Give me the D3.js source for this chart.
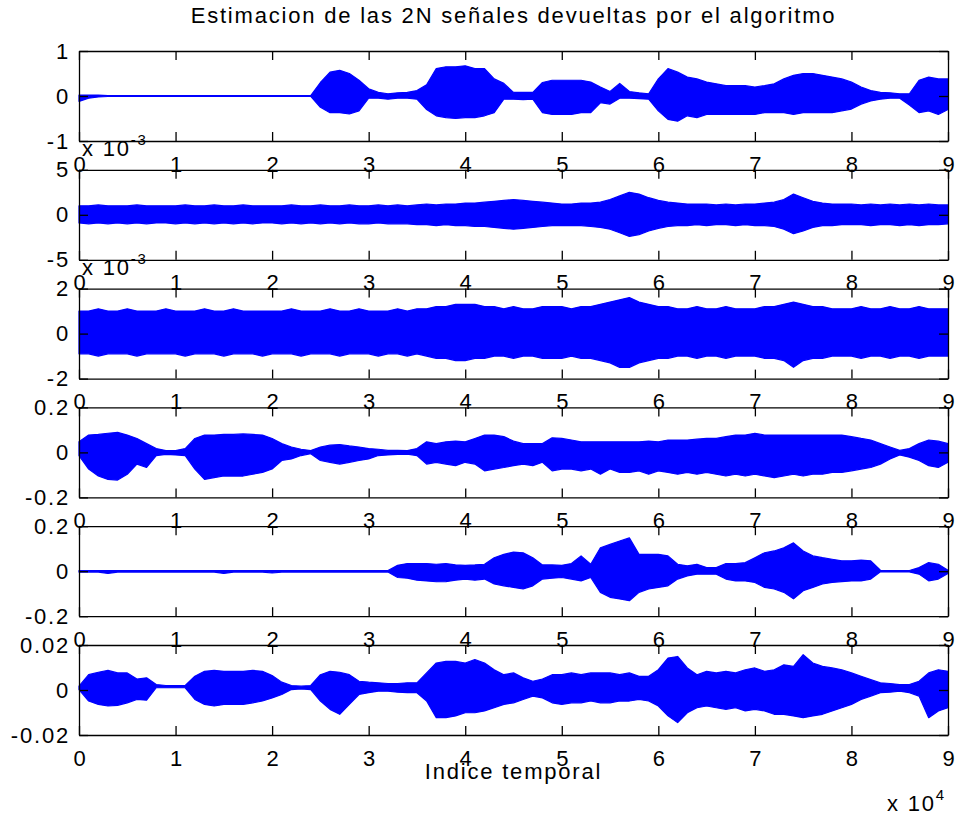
<!DOCTYPE html>
<html>
<head>
<meta charset="utf-8">
<script src="https://cdn.jsdelivr.net/npm/d3@7"></script>
<style>
  body { margin: 0; background: #fff; }
  svg { display: block; }
  text { font-family: "Liberation Sans", Arial, sans-serif; fill: #000; letter-spacing: 1.8px; }
  .xtick text { letter-spacing: 0; }
</style>
</head>
<body>
<svg id="chart" width="955" height="817"></svg>
<script>
// sample index of every envelope point (step 1000 samples)
const sampleIdx = [0,1000,2000,3000,4000,5000,6000,7000,8000,9000,
  10000,11000,12000,13000,14000,15000,16000,17000,18000,19000,
  20000,21000,22000,23000,24000,25000,26000,27000,28000,29000,
  30000,31000,32000,33000,34000,35000,36000,37000,38000,39000,
  40000,41000,42000,43000,44000,45000,46000,47000,48000,49000,
  50000,51000,52000,53000,54000,55000,56000,57000,58000,59000,
  60000,61000,62000,63000,64000,65000,66000,67000,68000,69000,
  70000,71000,72000,73000,74000,75000,76000,77000,78000,79000,
  80000,81000,82000,83000,84000,85000,86000,87000,88000,89000,
  90000];

// upper / lower envelope of each of the 6 signals
const hi1 = [0.02,0.02,0.02,0.01,0.01,0.01,0.01,0.01,0.01,0.01,
  0.01,0.01,0.01,0.01,0.01,0.01,0.01,0.01,0.01,0.01,
  0.01,0.01,0.01,0.01,0.01,0.30,0.53,0.57,0.50,0.35,
  0.16,0.08,0.05,0.07,0.08,0.12,0.25,0.61,0.65,0.65,
  0.67,0.61,0.61,0.38,0.28,0.08,0.08,0.08,0.30,0.35,
  0.35,0.35,0.35,0.31,0.20,0.10,0.28,0.10,0.07,0.05,
  0.38,0.61,0.53,0.42,0.38,0.31,0.27,0.23,0.23,0.23,
  0.20,0.23,0.27,0.38,0.46,0.50,0.50,0.46,0.42,0.38,
  0.31,0.20,0.12,0.08,0.07,0.05,0.05,0.35,0.42,0.38,
  0.38];
const lo1 = [-0.12,-0.05,-0.02,-0.01,-0.01,-0.01,-0.01,-0.01,-0.01,-0.01,
  -0.01,-0.01,-0.01,-0.01,-0.01,-0.01,-0.01,-0.01,-0.01,-0.01,
  -0.01,-0.01,-0.01,-0.01,-0.01,-0.25,-0.37,-0.37,-0.40,-0.33,
  -0.05,-0.05,-0.07,-0.05,-0.05,-0.07,-0.30,-0.44,-0.48,-0.50,
  -0.48,-0.48,-0.44,-0.37,-0.07,-0.07,-0.08,-0.07,-0.37,-0.41,
  -0.41,-0.41,-0.37,-0.37,-0.15,-0.18,-0.05,-0.05,-0.06,-0.07,
  -0.33,-0.52,-0.56,-0.44,-0.48,-0.41,-0.41,-0.41,-0.41,-0.41,
  -0.41,-0.37,-0.37,-0.37,-0.41,-0.37,-0.37,-0.37,-0.37,-0.33,
  -0.29,-0.18,-0.11,-0.07,-0.05,-0.05,-0.20,-0.37,-0.33,-0.41,
  -0.30];

const hi2 = [0.0010,0.0010,0.0011,0.0010,0.0010,0.0010,0.0011,0.0010,0.0010,0.0010,
  0.0010,0.0011,0.0010,0.0010,0.0011,0.0010,0.0010,0.0011,0.0010,0.0010,
  0.0010,0.0010,0.0011,0.0010,0.0010,0.0011,0.0010,0.0010,0.0011,0.0010,
  0.0010,0.0011,0.0010,0.0011,0.0010,0.0011,0.0012,0.0011,0.0012,0.0012,
  0.0013,0.0013,0.0014,0.0015,0.0016,0.0017,0.0016,0.0015,0.0014,0.0013,
  0.0012,0.0012,0.0013,0.0013,0.0014,0.0017,0.0021,0.0025,0.0023,0.0019,
  0.0016,0.0014,0.0013,0.0012,0.0012,0.0012,0.0011,0.0012,0.0011,0.0012,
  0.0012,0.0013,0.0014,0.0017,0.0023,0.0019,0.0015,0.0013,0.0012,0.0012,
  0.0012,0.0011,0.0012,0.0011,0.0012,0.0011,0.0012,0.0011,0.0012,0.0011,
  0.0011];
const lo2 = [-0.0009,-0.0010,-0.0009,-0.0010,-0.0009,-0.0010,-0.0009,-0.0010,-0.0009,-0.0009,
  -0.0010,-0.0009,-0.0010,-0.0009,-0.0010,-0.0009,-0.0010,-0.0009,-0.0010,-0.0009,
  -0.0009,-0.0010,-0.0009,-0.0010,-0.0009,-0.0010,-0.0009,-0.0010,-0.0009,-0.0010,
  -0.0010,-0.0009,-0.0010,-0.0010,-0.0010,-0.0011,-0.0011,-0.0012,-0.0011,-0.0012,
  -0.0012,-0.0013,-0.0013,-0.0014,-0.0015,-0.0016,-0.0015,-0.0014,-0.0013,-0.0012,
  -0.0012,-0.0012,-0.0012,-0.0013,-0.0014,-0.0016,-0.0020,-0.0024,-0.0022,-0.0018,
  -0.0015,-0.0013,-0.0012,-0.0012,-0.0011,-0.0012,-0.0011,-0.0011,-0.0012,-0.0011,
  -0.0012,-0.0012,-0.0013,-0.0016,-0.0021,-0.0018,-0.0014,-0.0012,-0.0012,-0.0011,
  -0.0011,-0.0011,-0.0012,-0.0011,-0.0011,-0.0012,-0.0011,-0.0012,-0.0011,-0.0011,
  -0.0010];

const hi3 = [0.0010,0.0010,0.0011,0.0010,0.0010,0.0011,0.0010,0.0010,0.0010,0.0011,
  0.0010,0.0010,0.0010,0.0011,0.0010,0.0010,0.0011,0.0010,0.0010,0.0010,
  0.0010,0.0010,0.0011,0.0010,0.0010,0.0010,0.0011,0.0010,0.0010,0.0011,
  0.0010,0.0010,0.0010,0.0011,0.0010,0.0011,0.0011,0.0012,0.0012,0.0013,
  0.0013,0.0013,0.0012,0.0012,0.0011,0.0012,0.0011,0.0011,0.0012,0.0012,
  0.0012,0.0011,0.0012,0.0012,0.0013,0.0014,0.0015,0.0016,0.0014,0.0013,
  0.0012,0.0012,0.0011,0.0011,0.0012,0.0011,0.0011,0.0012,0.0011,0.0011,
  0.0011,0.0012,0.0012,0.0013,0.0014,0.0013,0.0012,0.0012,0.0011,0.0011,
  0.0011,0.0012,0.0011,0.0011,0.0012,0.0011,0.0011,0.0012,0.0011,0.0011,
  0.0011];
const lo3 = [-0.0009,-0.0009,-0.0010,-0.0009,-0.0009,-0.0009,-0.0010,-0.0009,-0.0009,-0.0009,
  -0.0009,-0.0010,-0.0009,-0.0009,-0.0009,-0.0010,-0.0009,-0.0009,-0.0009,-0.0010,
  -0.0009,-0.0009,-0.0009,-0.0010,-0.0009,-0.0009,-0.0009,-0.0010,-0.0009,-0.0009,
  -0.0009,-0.0010,-0.0009,-0.0009,-0.0010,-0.0009,-0.0010,-0.0011,-0.0011,-0.0012,
  -0.0012,-0.0011,-0.0011,-0.0010,-0.0010,-0.0011,-0.0010,-0.0010,-0.0011,-0.0011,
  -0.0011,-0.0010,-0.0011,-0.0011,-0.0012,-0.0013,-0.0015,-0.0015,-0.0013,-0.0012,
  -0.0011,-0.0011,-0.0010,-0.0010,-0.0011,-0.0010,-0.0010,-0.0011,-0.0010,-0.0010,
  -0.0010,-0.0011,-0.0011,-0.0012,-0.0015,-0.0012,-0.0011,-0.0011,-0.0010,-0.0010,
  -0.0010,-0.0011,-0.0010,-0.0010,-0.0011,-0.0010,-0.0010,-0.0011,-0.0010,-0.0010,
  -0.0010];

const hi4 = [0.047,0.077,0.080,0.085,0.089,0.077,0.062,0.039,0.017,0.008,
  0.008,0.017,0.062,0.077,0.077,0.080,0.080,0.082,0.080,0.077,
  0.062,0.039,0.024,0.014,0.008,0.024,0.032,0.035,0.029,0.024,
  0.017,0.014,0.009,0.009,0.008,0.017,0.047,0.039,0.047,0.050,
  0.047,0.062,0.077,0.077,0.070,0.050,0.039,0.039,0.039,0.065,
  0.062,0.055,0.047,0.047,0.047,0.047,0.047,0.047,0.047,0.050,
  0.047,0.055,0.055,0.055,0.059,0.062,0.062,0.070,0.077,0.077,
  0.085,0.077,0.077,0.077,0.077,0.077,0.077,0.077,0.077,0.077,
  0.070,0.062,0.055,0.039,0.024,0.009,0.017,0.039,0.055,0.050,
  0.039];
const lo4 = [-0.014,-0.074,-0.105,-0.120,-0.123,-0.097,-0.052,-0.067,-0.014,-0.009,
  -0.011,-0.014,-0.074,-0.120,-0.112,-0.105,-0.105,-0.105,-0.097,-0.089,
  -0.074,-0.036,-0.029,-0.014,-0.006,-0.036,-0.044,-0.052,-0.044,-0.036,
  -0.029,-0.014,-0.011,-0.009,-0.008,-0.014,-0.052,-0.044,-0.052,-0.059,
  -0.044,-0.052,-0.082,-0.074,-0.067,-0.059,-0.052,-0.059,-0.044,-0.082,
  -0.074,-0.074,-0.082,-0.074,-0.097,-0.074,-0.089,-0.089,-0.082,-0.097,
  -0.082,-0.089,-0.097,-0.089,-0.097,-0.089,-0.097,-0.105,-0.097,-0.105,
  -0.097,-0.105,-0.112,-0.105,-0.097,-0.105,-0.097,-0.097,-0.089,-0.089,
  -0.082,-0.074,-0.067,-0.052,-0.029,-0.011,-0.021,-0.036,-0.059,-0.067,
  -0.044];

const hi5 = [0.003,0.003,0.003,0.003,0.003,0.003,0.003,0.003,0.003,0.003,
  0.003,0.003,0.003,0.003,0.003,0.003,0.003,0.003,0.003,0.003,
  0.003,0.003,0.003,0.003,0.003,0.003,0.003,0.003,0.003,0.003,
  0.003,0.003,0.003,0.026,0.034,0.034,0.034,0.031,0.034,0.028,
  0.026,0.028,0.031,0.060,0.075,0.085,0.082,0.060,0.028,0.028,
  0.026,0.034,0.068,0.031,0.104,0.119,0.134,0.148,0.075,0.075,
  0.075,0.068,0.031,0.024,0.031,0.016,0.016,0.034,0.034,0.038,
  0.060,0.082,0.090,0.104,0.126,0.090,0.068,0.060,0.053,0.046,
  0.046,0.049,0.046,0.004,0.003,0.003,0.003,0.016,0.038,0.031,
  0.004];
const lo5 = [-0.004,-0.004,-0.004,-0.010,-0.004,-0.004,-0.004,-0.004,-0.004,-0.004,
  -0.004,-0.004,-0.004,-0.004,-0.004,-0.010,-0.004,-0.004,-0.004,-0.004,
  -0.008,-0.004,-0.004,-0.004,-0.004,-0.004,-0.004,-0.004,-0.004,-0.004,
  -0.004,-0.004,-0.004,-0.028,-0.031,-0.040,-0.043,-0.047,-0.046,-0.040,
  -0.035,-0.040,-0.035,-0.057,-0.065,-0.072,-0.079,-0.065,-0.035,-0.031,
  -0.028,-0.035,-0.043,-0.028,-0.094,-0.116,-0.123,-0.131,-0.094,-0.079,
  -0.072,-0.065,-0.035,-0.021,-0.013,-0.013,-0.013,-0.035,-0.043,-0.043,
  -0.050,-0.072,-0.079,-0.094,-0.123,-0.087,-0.072,-0.057,-0.050,-0.046,
  -0.043,-0.043,-0.035,-0.002,-0.003,-0.003,-0.003,-0.013,-0.043,-0.035,
  -0.010];

const hi6 = [0.0017,0.0068,0.0079,0.0087,0.0076,0.0076,0.0049,0.0054,0.0024,0.0020,
  0.0020,0.0020,0.0061,0.0083,0.0087,0.0083,0.0083,0.0083,0.0087,0.0083,
  0.0064,0.0035,0.0020,0.0017,0.0020,0.0068,0.0083,0.0079,0.0068,0.0039,
  0.0035,0.0032,0.0029,0.0029,0.0032,0.0032,0.0076,0.0120,0.0127,0.0127,
  0.0120,0.0135,0.0120,0.0090,0.0068,0.0076,0.0054,0.0039,0.0049,0.0068,
  0.0068,0.0076,0.0068,0.0076,0.0076,0.0076,0.0068,0.0076,0.0061,0.0061,
  0.0090,0.0142,0.0149,0.0098,0.0068,0.0083,0.0076,0.0083,0.0076,0.0090,
  0.0098,0.0083,0.0090,0.0112,0.0105,0.0157,0.0120,0.0105,0.0098,0.0090,
  0.0076,0.0061,0.0046,0.0032,0.0029,0.0024,0.0024,0.0039,0.0076,0.0090,
  0.0083];
const lo6 = [0.0002,-0.0049,-0.0064,-0.0071,-0.0068,-0.0057,-0.0042,-0.0045,0.0010,0.0010,
  0.0010,0.0010,-0.0042,-0.0064,-0.0071,-0.0064,-0.0064,-0.0064,-0.0057,-0.0049,
  -0.0035,-0.0020,0.0002,0.0005,0.0002,-0.0049,-0.0086,-0.0108,-0.0064,-0.0020,
  -0.0012,-0.0005,-0.0005,-0.0010,-0.0012,-0.0012,-0.0049,-0.0123,-0.0123,-0.0115,
  -0.0101,-0.0101,-0.0093,-0.0079,-0.0064,-0.0057,-0.0042,-0.0027,-0.0035,-0.0057,
  -0.0064,-0.0057,-0.0057,-0.0049,-0.0057,-0.0057,-0.0049,-0.0049,-0.0042,-0.0049,
  -0.0071,-0.0115,-0.0145,-0.0101,-0.0079,-0.0071,-0.0079,-0.0086,-0.0079,-0.0093,
  -0.0086,-0.0093,-0.0108,-0.0108,-0.0115,-0.0123,-0.0115,-0.0108,-0.0093,-0.0079,
  -0.0064,-0.0042,-0.0027,-0.0012,-0.0010,-0.0005,-0.0012,-0.0027,-0.0123,-0.0093,
  -0.0079];

// axis limits and tick labels
const yLimits = [1, 5e-3, 2e-3, 0.2, 0.2, 0.02];
const yTickLabels = [
  ['-1', '0', '1'],
  ['-5', '0', '5'],
  ['-2', '0', '2'],
  ['-0.2', '0', '0.2'],
  ['-0.2', '0', '0.2'],
  ['-0.02', '0', '0.02']
];
const yExponents = [null, '-3', '-3', null, null, null];
const xTicks = [0, 10000, 20000, 30000, 40000, 50000, 60000, 70000, 80000, 90000];
const xTickLabels = ['0', '1', '2', '3', '4', '5', '6', '7', '8', '9'];

const highs = [hi1, hi2, hi3, hi4, hi5, hi6];
const lows = [lo1, lo2, lo3, lo4, lo5, lo6];

const svg = d3.select('#chart');
const fontSize = 22;
const fontFamily = '"Liberation Sans", Arial, sans-serif';
const left = 79, right = 948;
const firstTop = 51, step = 118.8, plotH = 90;
const tickLen = 9;

const x = d3.scaleLinear().domain([0, 90000]).range([left, right]);

svg.append('text')
  .attr('x', (left + right) / 2)
  .attr('y', 23)
  .attr('text-anchor', 'middle')
  .attr('font-size', fontSize)
  .text('Estimacion de las 2N señales devueltas por el algoritmo');

highs.forEach((hi, k) => {
  const lo = lows[k];
  const top = firstTop + k * step;
  const bottom = top + plotH;
  const lim = yLimits[k];
  const y = d3.scaleLinear().domain([-lim, lim]).range([bottom, top]);

  const g = svg.append('g').attr('class', 'panel');

  // signal envelope
  const area = d3.area()
    .x((d, i) => x(sampleIdx[i]))
    .y0((d, i) => y(lo[i]))
    .y1((d, i) => y(hi[i]));

  g.append('path')
    .datum(hi)
    .attr('d', area)
    .attr('fill', '#0000ff')
    .attr('stroke', '#0000ff')
    .attr('stroke-width', 1.2)
    .attr('stroke-linejoin', 'round');

  // box axes with inward ticks
  const bottomAxis = d3.axisBottom(x).tickValues(xTicks)
    .tickSizeInner(-tickLen).tickSizeOuter(0).tickPadding(15)
    .tickFormat((d, i) => xTickLabels[i]);
  const topAxis = d3.axisTop(x).tickValues(xTicks)
    .tickSizeInner(-tickLen).tickSizeOuter(0).tickFormat('');
  const yTicks = [-lim, 0, lim];
  const leftAxis = d3.axisLeft(y).tickValues(yTicks)
    .tickSizeInner(-tickLen).tickSizeOuter(0).tickPadding(9)
    .tickFormat((d, i) => yTickLabels[k][i]);
  const rightAxis = d3.axisRight(y).tickValues(yTicks)
    .tickSizeInner(-tickLen).tickSizeOuter(0).tickFormat('');

  const axes = [
    g.append('g').attr('class', 'xtick').attr('transform', `translate(0,${bottom})`).call(bottomAxis),
    g.append('g').attr('transform', `translate(0,${top})`).call(topAxis),
    g.append('g').attr('transform', `translate(${left},0)`).call(leftAxis),
    g.append('g').attr('transform', `translate(${right},0)`).call(rightAxis)
  ];
  axes.forEach(a => {
    a.attr('font-size', fontSize).attr('font-family', fontFamily);
    a.selectAll('path, line').attr('stroke', '#000').attr('stroke-width', 1.3);
    a.selectAll('text').attr('fill', '#000');
  });

  // exponent label above the top-left corner
  if (yExponents[k]) {
    const t = g.append('text')
      .attr('x', left + 3)
      .attr('y', top - 14)
      .attr('font-size', fontSize);
    t.append('tspan').text('x 10');
    t.append('tspan').attr('dy', -11).attr('font-size', 15).text(yExponents[k]);
  }
});

svg.append('text')
  .attr('x', (left + right) / 2)
  .attr('y', 779)
  .attr('text-anchor', 'middle')
  .attr('font-size', fontSize)
  .text('Indice temporal');

const expX = svg.append('text')
  .attr('x', right - 2)
  .attr('y', 811)
  .attr('text-anchor', 'end')
  .attr('font-size', fontSize);
expX.append('tspan').text('x 10');
expX.append('tspan').attr('dy', -11).attr('font-size', 15).text('4');
</script>
</body>
</html>
